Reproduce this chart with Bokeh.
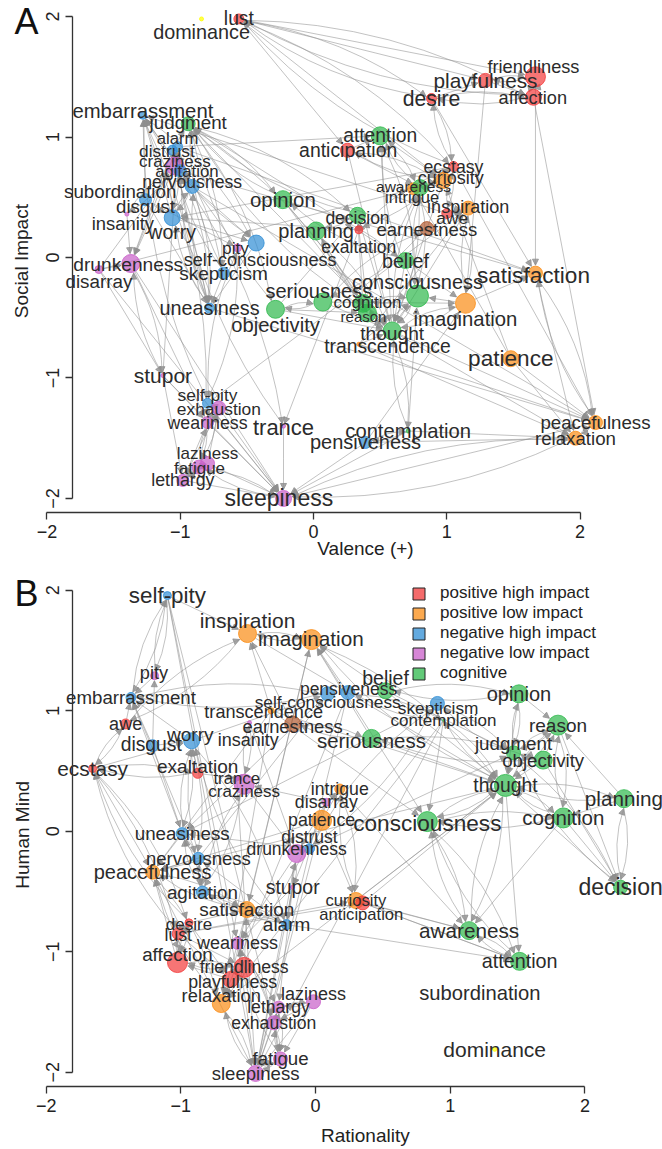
import math
from bokeh.plotting import figure
from bokeh.models import ColumnDataSource, Range1d, LinearAxis, FixedTicker, Arrow, NormalHead, Label
from bokeh.layouts import column
from bokeh.embed import file_html
from bokeh.resources import INLINE
from bokeh.core.properties import value

# ---------------- data ----------------
nodes = ["lust", "dominance", "embarrassment", "judgment", "alarm", "distrust", "craziness", "agitation",
         "nervousness", "subordination", "disgust", "insanity", "worry", "opinion", "planning", "pity",
         "self-consciousness", "skepticism", "uneasiness", "objectivity", "seriousness", "cognition", "reason",
         "consciousness", "imagination", "thought", "transcendence", "satisfaction", "patience", "peacefulness",
         "relaxation", "contemplation", "pensiveness", "belief", "exaltation", "decision", "earnestness", "awe",
         "inspiration", "intrigue", "awareness", "curiosity", "ecstasy", "attention", "anticipation", "desire",
         "playfulness", "friendliness", "affection", "drunkenness", "disarray", "stupor", "self-pity",
         "exhaustion", "weariness", "trance", "laziness", "fatigue", "lethargy", "sleepiness"]

category = ["pos_high", "other", "neg_high", "cog", "neg_high", "neg_high", "neg_low", "neg_high",
            "neg_high", "none", "neg_high", "neg_low", "neg_high", "cog", "cog", "neg_low",
            "neg_high", "neg_high", "neg_high", "cog", "cog", "cog", "cog",
            "cog", "pos_low", "cog", "pos_low", "pos_low", "pos_low", "pos_low",
            "pos_low", "cog", "neg_high", "cog", "pos_high", "cog", "mixed", "pos_high",
            "pos_low", "pos_low", "cog", "pos_low", "pos_high", "cog", "pos_high", "pos_high",
            "pos_high", "pos_high", "pos_high", "neg_low", "neg_low", "neg_low", "neg_high",
            "neg_low", "neg_low", "neg_low", "neg_low", "neg_low", "neg_low", "neg_low"]

# Panel A: Valence (+) vs Social Impact
a_x = [-0.56, -0.84, -1.28, -0.94, -1.02, -1.06, -1.04, -1.00, -0.91, -1.45, -1.26, -1.40, -1.06, -0.23, 0.02,
       -0.57, -0.43, -0.675, -0.78, -0.285, 0.07, 0.37, 0.405, 0.78, 1.14, 0.59, 0.34, 1.665, 1.48, 2.115,
       1.965, 0.71, 0.39, 0.69, 0.34, 0.33, 0.85, 1.00, 1.16, 0.75, 0.80, 0.975, 1.05, 0.50, 0.255, 0.885,
       1.29, 1.665, 1.65, -1.37, -1.61, -1.13, -0.795, -0.71, -0.795, -0.225, -0.795, -0.86, -0.98, -0.225]
a_y = [1.98, 1.98, 1.18, 1.11, 0.92, 0.89, 0.76, 0.72, 0.59, 0.55, 0.48, 0.36, 0.33, 0.48, 0.22,
       0.08, 0.12, -0.13, -0.42, -0.43, -0.37, -0.38, -0.46, -0.32, -0.38, -0.61, -0.72, -0.13, -0.84, -1.37,
       -1.50, -1.44, -1.535, -0.025, 0.23, 0.35, 0.24, 0.365, 0.41, 0.57, 0.58, 0.64, 0.755, 1.01, 0.89, 1.32,
       1.47, 1.50, 1.33, -0.05, -0.10, -0.98, -1.21, -1.25, -1.37, -1.40, -1.71, -1.74, -1.85, -2.00]
a_lab_x = [-0.56, -0.84, -1.28, -0.94, -1.02, -1.10, -1.04, -0.95, -0.91, -1.45, -1.26, -1.43, -1.06, -0.23, 0.02,
           -0.585, -0.40, -0.675, -0.78, -0.285, 0.04, 0.405, 0.375, 0.78, 1.14, 0.59, 0.555, 1.65, 1.48, 2.115,
           1.965, 0.71, 0.39, 0.69, 0.34, 0.33, 0.85, 1.04, 1.16, 0.74, 0.75, 1.03, 1.05, 0.50, 0.26, 0.885,
           1.29, 1.65, 1.645, -1.39, -1.61, -1.13, -0.795, -0.71, -0.795, -0.225, -0.795, -0.855, -0.98, -0.26]
a_lab_y = [1.98, 1.87, 1.22, 1.12, 0.99, 0.88, 0.80, 0.71, 0.63, 0.55, 0.42, 0.28, 0.21, 0.48, 0.22,
           0.08, -0.02, -0.13, -0.42, -0.56, -0.28, -0.37, -0.49, -0.20, -0.51, -0.63, -0.74, -0.15, -0.84, -1.37,
           -1.50, -1.44, -1.535, -0.025, 0.09, 0.33, 0.23, 0.33, 0.42, 0.50, 0.59, 0.66, 0.755, 1.01, 0.89, 1.32,
           1.47, 1.585, 1.32, -0.06, -0.20, -0.98, -1.14, -1.26, -1.37, -1.41, -1.63, -1.75, -1.85, -2.00]
a_vsize = [5, 2, 4, 7, 5, 5, 9, 6, 7, 0.5, 6, 2, 8, 9, 9, 4, 8, 6, 5, 9, 9, 9, 9, 11, 10, 9, 2, 7, 8, 7,
           7, 2, 6, 8, 4, 8, 7, 5, 7, 6, 8, 8, 5, 9, 7, 5, 7, 10, 8, 9, 4, 2, 5, 7, 6, 2, 7, 7, 6, 8]
a_cex = [19.3, 19.8, 20.3, 18.8, 16.7, 17.3, 17.0, 16.8, 17.6, 18.7, 18.6, 18.4, 19.5, 20.4, 20.0,
         17.3, 18.1, 19.0, 19.8, 20.2, 20.0, 17.0, 15.0, 20.0, 20.3, 19.2, 19.3, 22.6, 22.6, 18.7,
         18.7, 20.2, 20.0, 19.7, 17.5, 17.5, 18.5, 17.3, 18.0, 16.5, 15.5, 18.0, 17.7, 19.3, 19.4, 21.2,
         20.8, 18.2, 18.2, 19.2, 18.8, 21.0, 17.4, 17.4, 17.8, 22.0, 17.0, 17.0, 17.8, 23.0]

# Panel B: Rationality vs Human Mind
b_x = [-1.02, 1.33, -1.37, 1.47, -0.215, -0.045, -0.53, -0.84, -0.87, 1.22, -1.21, -0.49, -0.92, 1.51, 2.29,
       -1.195, 0.09, 0.905, -0.99, 1.69, 0.415, 1.84, 1.80, 0.83, -0.03, 1.41, -0.33, -0.51, 0.045, -1.21,
       -0.70, 0.95, 0.24, 0.52, -0.875, 2.265, -0.17, -1.41, -0.505, 0.18, 1.14, 0.30, -1.655, 1.515, 0.35,
       -0.94, -0.63, -0.53, -1.025, -0.14, 0.08, -0.17, -1.10, -0.31, -0.58, -0.585, -0.015, -0.26, -0.275, -0.445]
b_y = [-0.85, -1.81, 1.11, 0.65, -0.775, -0.145, 0.39, -0.505, -0.225, -1.34, 0.71, 0.90, 0.75, 1.14, 0.27,
       1.29, 1.14, 1.06, -0.02, 0.59, 0.77, 0.11, 0.88, 0.08, 1.59, 0.38, 1.00, -0.65, 0.09, -0.34,
       -1.43, 0.92, 1.15, 1.165, 0.48, -0.465, 0.89, 0.89, 1.64, 0.35, -0.825, -0.575, 0.52, -1.08, -0.595,
       -0.76, -1.23, -1.13, -1.09, -0.185, 0.24, -0.465, 1.955, -1.59, -0.93, 0.44, -1.415, -1.89, -1.46, -2.01]
b_lab_x = [-1.02, 1.33, -1.37, 1.47, -0.215, -0.045, -0.53, -0.84, -0.87, 1.22, -1.22, -0.50, -0.93, 1.51, 2.29,
           -1.20, 0.09, 0.91, -0.99, 1.69, 0.415, 1.84, 1.80, 0.83, -0.035, 1.41, -0.385, -0.51, 0.045, -1.21,
           -0.70, 0.95, 0.245, 0.52, -0.875, 2.265, -0.17, -1.41, -0.505, 0.18, 1.14, 0.30, -1.655, 1.515, 0.34,
           -0.94, -0.615, -0.53, -1.025, -0.14, 0.08, -0.17, -1.10, -0.31, -0.58, -0.585, -0.015, -0.26, -0.275, -0.445]
b_lab_y = [-0.86, -1.81, 1.11, 0.73, -0.775, -0.045, 0.33, -0.505, -0.225, -1.34, 0.72, 0.76, 0.80, 1.14, 0.27,
           1.31, 1.07, 1.02, -0.02, 0.59, 0.75, 0.11, 0.88, 0.065, 1.60, 0.38, 0.985, -0.65, 0.09, -0.34,
           -1.365, 0.92, 1.18, 1.27, 0.54, -0.465, 0.87, 0.89, 1.75, 0.35, -0.825, -0.575, 0.52, -1.08, -0.69,
           -0.77, -1.25, -1.13, -1.02, -0.145, 0.24, -0.465, 1.955, -1.59, -0.93, 0.44, -1.35, -1.89, -1.46, -2.01]
b_vsize = [6, 2, 5, 7, 5, 5, 10, 6, 6, 0.5, 6, 2, 8, 9, 9, 4, 7, 7, 6, 9, 9, 10, 10, 10, 10, 11, 3, 8, 10, 7,
           9, 1, 7, 8, 5, 7, 8, 5, 9, 5, 9, 8, 4, 9, 7, 4, 8, 10, 10, 9, 4, 2, 4, 7, 6, 2, 7, 7, 6, 8]
b_cex = [17.6, 21.0, 18.7, 18.8, 19.0, 17.5, 17.0, 18.8, 18.5, 20.2, 19.3, 18.0, 19.1, 20.0, 20.7,
         18.2, 17.3, 17.3, 18.8, 18.7, 20.4, 20.5, 19.0, 22.6, 20.7, 19.3, 18.1, 19.0, 17.8, 20.0,
         18.3, 17.0, 17.5, 19.5, 19.0, 23.0, 18.4, 18.0, 21.0, 17.7, 20.7, 16.6, 20.9, 19.8, 16.6,
         17.0, 17.8, 17.6, 18.8, 17.5, 17.7, 19.4, 22.4, 17.6, 18.0, 16.8, 18.0, 18.7, 17.6, 18.6]

legend_cats = ["pos_high", "pos_low", "neg_high", "neg_low", "cog"]
legend_labels = ["positive high impact", "positive low impact", "negative high impact",
                 "negative low impact", "cognitive"]

edges = [
    ("fatigue", "sleepiness"), ("sleepiness", "fatigue"), ("lethargy", "sleepiness"), ("laziness", "sleepiness"),
    ("exhaustion", "sleepiness"), ("weariness", "sleepiness"), ("trance", "sleepiness"), ("relaxation", "sleepiness"),
    ("peacefulness", "sleepiness"), ("drunkenness", "sleepiness"), ("stupor", "sleepiness"), ("pensiveness", "sleepiness"),
    ("sleepiness", "relaxation"), ("contemplation", "sleepiness"), ("self-pity", "sleepiness"),
    ("fatigue", "exhaustion"), ("exhaustion", "fatigue"), ("weariness", "fatigue"), ("fatigue", "weariness"),
    ("lethargy", "fatigue"), ("fatigue", "lethargy"), ("laziness", "lethargy"), ("lethargy", "laziness"),
    ("weariness", "exhaustion"), ("exhaustion", "weariness"), ("laziness", "fatigue"), ("exhaustion", "lethargy"),
    ("weariness", "lethargy"), ("self-pity", "weariness"), ("self-pity", "exhaustion"), ("laziness", "exhaustion"),
    ("drunkenness", "stupor"), ("stupor", "drunkenness"), ("disarray", "drunkenness"), ("drunkenness", "weariness"),
    ("stupor", "weariness"), ("disarray", "stupor"), ("disarray", "sleepiness"), ("stupor", "lethargy"),
    ("relaxation", "peacefulness"), ("peacefulness", "relaxation"), ("satisfaction", "peacefulness"),
    ("peacefulness", "satisfaction"), ("patience", "peacefulness"), ("patience", "relaxation"),
    ("thought", "peacefulness"), ("transcendence", "peacefulness"), ("transcendence", "relaxation"),
    ("contemplation", "relaxation"), ("imagination", "satisfaction"), ("satisfaction", "relaxation"),
    ("pensiveness", "relaxation"), ("affection", "peacefulness"), ("playfulness", "imagination"),
    ("thought", "relaxation"),
    ("friendliness", "affection"), ("affection", "friendliness"), ("playfulness", "friendliness"),
    ("friendliness", "playfulness"), ("playfulness", "affection"), ("desire", "lust"), ("lust", "desire"),
    ("affection", "desire"), ("desire", "affection"), ("lust", "affection"), ("lust", "playfulness"),
    ("lust", "friendliness"), ("lust", "ecstasy"), ("lust", "curiosity"), ("lust", "anticipation"),
    ("desire", "ecstasy"), ("ecstasy", "desire"), ("exaltation", "ecstasy"), ("ecstasy", "exaltation"),
    ("awe", "inspiration"), ("inspiration", "awe"), ("awe", "ecstasy"), ("ecstasy", "awe"),
    ("curiosity", "intrigue"), ("intrigue", "curiosity"), ("anticipation", "curiosity"), ("curiosity", "anticipation"),
    ("earnestness", "seriousness"), ("seriousness", "earnestness"), ("inspiration", "imagination"),
    ("imagination", "inspiration"), ("desire", "playfulness"), ("friendliness", "satisfaction"), ("affection", "lust"),
    ("thought", "cognition"), ("cognition", "thought"), ("reason", "thought"), ("thought", "reason"),
    ("consciousness", "awareness"), ("awareness", "consciousness"), ("attention", "awareness"),
    ("awareness", "attention"), ("decision", "planning"), ("planning", "decision"), ("judgment", "opinion"),
    ("opinion", "judgment"), ("objectivity", "judgment"), ("belief", "opinion"), ("opinion", "belief"),
    ("contemplation", "thought"), ("thought", "contemplation"), ("pensiveness", "contemplation"),
    ("contemplation", "pensiveness"), ("imagination", "thought"), ("thought", "imagination"),
    ("anticipation", "attention"), ("consciousness", "thought"), ("thought", "consciousness"),
    ("cognition", "reason"), ("reason", "cognition"), ("reason", "judgment"), ("judgment", "reason"),
    ("decision", "judgment"), ("judgment", "decision"), ("planning", "thought"), ("thought", "planning"),
    ("cognition", "consciousness"), ("consciousness", "cognition"), ("objectivity", "reason"),
    ("awareness", "thought"), ("thought", "awareness"), ("attention", "consciousness"),
    ("consciousness", "attention"), ("cognition", "decision"), ("planning", "cognition"), ("reason", "decision"),
    ("objectivity", "thought"), ("seriousness", "thought"), ("belief", "thought"), ("opinion", "thought"),
    ("judgment", "thought"), ("contemplation", "consciousness"), ("imagination", "consciousness"),
    ("intrigue", "awareness"), ("curiosity", "attention"), ("curiosity", "awareness"), ("anticipation", "awareness"),
    ("transcendence", "thought"), ("transcendence", "consciousness"), ("inspiration", "thought"),
    ("belief", "judgment"), ("seriousness", "objectivity"), ("objectivity", "seriousness"),
    ("cognition", "awareness"), ("planning", "reason"), ("opinion", "reason"), ("thought", "decision"),
    ("objectivity", "decision"), ("judgment", "objectivity"), ("alarm", "attention"), ("thought", "attention"),
    ("belief", "imagination"), ("pensiveness", "imagination"), ("seriousness", "imagination"),
    ("earnestness", "inspiration"), ("transcendence", "inspiration"), ("self-pity", "inspiration"),
    ("nervousness", "agitation"), ("agitation", "nervousness"), ("worry", "nervousness"), ("nervousness", "worry"),
    ("uneasiness", "nervousness"), ("nervousness", "uneasiness"), ("worry", "uneasiness"), ("uneasiness", "worry"),
    ("alarm", "agitation"), ("alarm", "worry"), ("worry", "alarm"), ("distrust", "skepticism"),
    ("skepticism", "distrust"), ("embarrassment", "self-consciousness"), ("self-consciousness", "embarrassment"),
    ("craziness", "insanity"), ("insanity", "craziness"), ("pity", "self-pity"), ("self-pity", "pity"),
    ("self-pity", "embarrassment"), ("embarrassment", "self-pity"), ("agitation", "craziness"),
    ("craziness", "agitation"), ("disgust", "embarrassment"), ("nervousness", "embarrassment"),
    ("worry", "embarrassment"), ("uneasiness", "embarrassment"), ("disgust", "uneasiness"),
    ("distrust", "uneasiness"), ("alarm", "nervousness"), ("agitation", "uneasiness"), ("skepticism", "uneasiness"),
    ("self-consciousness", "uneasiness"), ("nervousness", "self-consciousness"), ("worry", "self-consciousness"),
    ("pity", "embarrassment"), ("disgust", "pity"), ("awe", "embarrassment"), ("insanity", "drunkenness"),
    ("craziness", "drunkenness"), ("disarray", "craziness"), ("trance", "craziness"), ("craziness", "trance"),
    ("judgment", "skepticism"), ("skepticism", "judgment"), ("distrust", "judgment"), ("disgust", "worry"),
    ("agitation", "alarm"), ("exaltation", "worry"), ("ecstasy", "worry"), ("ecstasy", "peacefulness"),
    ("ecstasy", "lust"), ("exaltation", "trance"), ("distrust", "drunkenness"), ("uneasiness", "agitation"),
    ("agitation", "satisfaction"), ("alarm", "satisfaction"), ("desire", "satisfaction"),
    ("nervousness", "peacefulness"), ("uneasiness", "peacefulness"), ("patience", "intrigue"),
    ("disarray", "intrigue"), ("patience", "curiosity"), ("curiosity", "thought"), ("anticipation", "thought"),
    ("drunkenness", "alarm"), ("stupor", "alarm"),
]

# ---------------- styling ----------------
COLORS = {"pos_high": "#F23A3A", "pos_low": "#FA8C14", "neg_high": "#2F8DD4", "neg_low": "#C85EC8",
          "cog": "#2DB84B", "mixed": "#B05A30", "other": "#FFFF00", "none": "#BBBBBB"}
FONT = "Liberation Sans"
EDGE_COL = "#8f8f8f"

edges = list(dict.fromkeys(edges))
idx = {n: i for i, n in enumerate(nodes)}
eset = set(edges)


def edge_geometry(xs, ys, rads, sx, sy):
    out = {k: [] for k in ("x0", "y0", "x1", "y1", "cx", "cy", "hx", "hy")}
    for a, b in edges:
        i, j = idx[a], idx[b]
        ax_, ay_ = xs[i] * sx, ys[i] * sy
        bx_, by_ = xs[j] * sx, ys[j] * sy
        dx, dy = bx_ - ax_, by_ - ay_
        L = math.hypot(dx, dy)
        if L < 1e-6:
            continue
        ux, uy = dx / L, dy / L
        c = 0.12 if (b, a) in eset else 0.0
        s0x, s0y = ax_ + ux * rads[i], ay_ + uy * rads[i]
        e0x, e0y = bx_ - ux * (rads[j] + 1), by_ - uy * (rads[j] + 1)
        mx, my = (s0x + e0x) / 2, (s0y + e0y) / 2
        cxp, cyp = mx - uy * c * L, my + ux * c * L
        tx, ty = e0x - cxp, e0y - cyp
        tl = math.hypot(tx, ty) or 1.0
        hx, hy = e0x - tx / tl * 8, e0y - ty / tl * 8
        for k, v in (("x0", s0x / sx), ("y0", s0y / sy), ("x1", e0x / sx), ("y1", e0y / sy),
                     ("cx", cxp / sx), ("cy", cyp / sy), ("hx", hx / sx), ("hy", hy / sy)):
            out[k].append(v)
    return out


def make_panel(xs, ys, lxs, lys, rads, fonts, W, H, xr, yr, xaxis_at, yaxis_at,
               xlabel, xlabel_xy, ylabel, ylabel_xy, letter, letter_xy, legend=False):
    p = figure(width=W, height=H, x_range=Range1d(*xr), y_range=Range1d(*yr),
               output_backend="svg", toolbar_location=None, min_border=0,
               x_axis_type=None, y_axis_type=None)
    p.outline_line_color = None
    p.background_fill_color = "white"

    sx = W / (xr[1] - xr[0])
    sy = H / (yr[1] - yr[0])
    eg = ColumnDataSource(edge_geometry(xs, ys, rads, sx, sy))
    p.quadratic(x0="x0", y0="y0", x1="x1", y1="y1", cx="cx", cy="cy", source=eg,
                line_color=EDGE_COL, line_alpha=0.55, line_width=1, level="underlay")
    p.add_layout(Arrow(end=NormalHead(size=6, fill_color=EDGE_COL, line_color=EDGE_COL,
                                      fill_alpha=0.8, line_alpha=0.8),
                       x_start="hx", y_start="hy", x_end="x1", y_end="y1", source=eg,
                       line_alpha=0.0, level="underlay"))

    ns = ColumnDataSource(dict(x=xs, y=ys, size=[2 * r for r in rads],
                               color=[COLORS[c] for c in category], name=nodes))
    p.scatter(x="x", y="y", size="size", source=ns, fill_color="color", fill_alpha=0.7,
              line_color="color", line_alpha=0.8, line_width=1)

    ls = ColumnDataSource(dict(x=lxs, y=lys, text=nodes, fs=["%.1fpx" % f for f in fonts]))
    p.text(x="x", y="y", text="text", source=ls, text_font=value(FONT), text_font_size="fs",
           text_color="#2b2b2b", text_align="center", text_baseline="middle")

    ticks = [-2, -1, 0, 1, 2]
    xa = LinearAxis(fixed_location=xaxis_at, bounds=(-2, 2), ticker=FixedTicker(ticks=ticks))
    ya = LinearAxis(fixed_location=yaxis_at, bounds=(-2, 2), ticker=FixedTicker(ticks=ticks),
                    major_label_orientation="vertical")
    for ax in (xa, ya):
        ax.axis_line_color = "#333333"
        ax.axis_line_width = 1.3
        ax.major_tick_line_color = "#333333"
        ax.major_tick_line_width = 1.3
        ax.major_tick_out = 7
        ax.major_tick_in = 0
        ax.minor_tick_out = 0
        ax.minor_tick_in = 0
        ax.major_label_text_font = FONT
        ax.major_label_text_font_size = "18px"
        ax.major_label_text_color = "#222222"
        ax.major_label_standoff = 6
    p.add_layout(xa, "below")
    p.add_layout(ya, "left")

    p.add_layout(Label(x=xlabel_xy[0], y=xlabel_xy[1], text=xlabel, text_font=FONT, text_font_size="19px",
                       text_color="#222222", text_align="center", text_baseline="middle"))
    p.add_layout(Label(x=ylabel_xy[0], y=ylabel_xy[1], text=ylabel, text_font=FONT, text_font_size="19px",
                       text_color="#222222", text_align="center", text_baseline="middle",
                       angle=math.pi / 2))
    p.add_layout(Label(x=letter_xy[0], y=letter_xy[1], text=letter, text_font=FONT, text_font_size="36px",
                       text_color="#111111", text_align="center", text_baseline="middle"))

    if legend:
        nan = float("nan")
        for cat, lab in zip(legend_cats, legend_labels):
            p.rect(x=[nan], y=[nan], width=1, height=1, fill_color=COLORS[cat], fill_alpha=0.75,
                   line_color="#222222", line_width=1, legend_label=lab)
        lg = p.legend[0]
        lg.location = (411, 466)
        lg.background_fill_alpha = 0
        lg.border_line_color = None
        lg.padding = 0
        lg.margin = 0
        lg.spacing = 0
        lg.glyph_width = 15
        lg.glyph_height = 15
        lg.label_height = 20
        lg.label_standoff = 14
        lg.label_text_font = FONT
        lg.label_text_font_size = "17px"
        lg.label_text_color = "#222222"
    return p


pA = make_panel(a_x, a_y, a_lab_x, a_lab_y, a_vsize, a_cex, 662, 574,
                (-2.348, 2.618), (-2.631, 2.133), -2.114, -1.810,
                "Valence (+)", (0.39, -2.415), "Social Impact", (-2.187, -0.03),
                "A", (-2.153, 1.96))
pB = make_panel(b_x, b_y, b_lab_x, b_lab_y, b_vsize, b_cex, 662, 575,
                (-2.339, 2.576), (-2.641, 2.130), -2.116, -1.806,
                "Rationality", (0.37, -2.525), "Human Mind", (-2.179, -0.03),
                "B", (-2.145, 1.97), legend=True)

layout = column(pA, pB, spacing=0)
open("out.html", "w").write(file_html(layout, INLINE))
